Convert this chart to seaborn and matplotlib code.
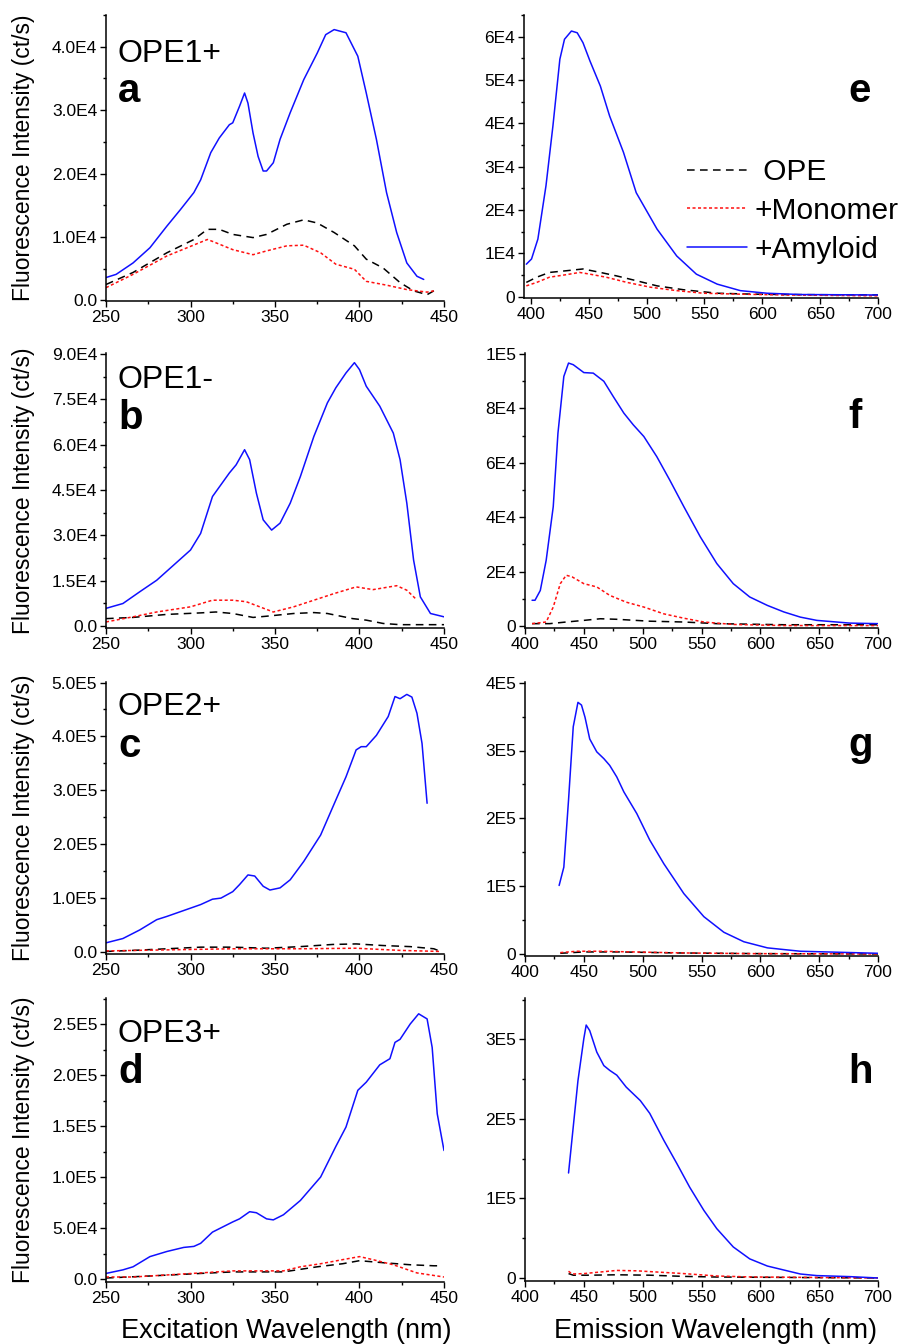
import numpy as np
import pandas as pd
import matplotlib
matplotlib.use("Agg")
import matplotlib.pyplot as plt
from matplotlib.ticker import MultipleLocator, FuncFormatter
import seaborn as sns

# ---------------- data ----------------
SERIES = [" OPE", "+Monomer", "+Amyloid"]

# panel a : OPE1+ excitation
A_X_AMY = [250, 256, 266, 276, 286, 294, 302, 306, 312, 317, 323, 325, 329, 332, 334, 337, 340, 343, 345, 349,
           353, 359, 367, 375, 380, 385, 392, 399, 404, 410, 416, 422, 428, 434, 438]
A_Y_AMY = [3600, 4100, 5900, 8300, 11700, 14300, 17000, 19000, 23300, 25600, 27700, 28000, 30600, 32700, 31100,
           26400, 22700, 20400, 20400, 21700, 25400, 29600, 34800, 39000, 41900, 42700, 42200, 38500, 32700,
           25400, 17000, 10700, 5900, 3800, 3300]
A_X_OPE = [250, 266, 286, 302, 310, 317, 325, 337, 345, 357, 367, 375, 385, 397, 404, 414, 424, 432, 440, 444]
A_Y_OPE = [2500, 4400, 7500, 9600, 11200, 11200, 10400, 9900, 10400, 12000, 12700, 12200, 10700, 8600, 6500,
           5100, 2800, 1500, 900, 1500]
A_X_MONO = [250, 266, 286, 298, 310, 313, 325, 337, 345, 357, 367, 377, 386, 397, 404, 416, 428, 440, 444]
A_Y_MONO = [2000, 4100, 7000, 8300, 9600, 9300, 8000, 7200, 7800, 8600, 8700, 7500, 5700, 4900, 3000, 2400,
            1700, 1300, 1500]

# panel b : OPE1- excitation
B_X_AMY = [250, 260, 270, 280, 290, 300, 306, 313, 323, 327, 332, 335, 339, 343, 348, 353, 359, 365, 373, 381,
           386, 392, 397, 400, 404, 412, 420, 424, 428, 432, 436, 442, 450]
B_Y_AMY = [5800, 7400, 11300, 15100, 20100, 25100, 30600, 42800, 50600, 53300, 58300, 55000, 43900, 35100,
           31700, 34000, 40600, 49400, 62700, 73800, 78800, 83700, 87100, 84800, 79300, 72700, 63800, 55000,
           40600, 21800, 9600, 4100, 3000]
B_X_MONO = [250, 266, 280, 300, 313, 325, 333, 349, 361, 373, 385, 398, 408, 422, 428, 433]
B_Y_MONO = [1300, 3000, 4600, 6300, 8500, 8500, 8000, 4600, 6300, 8500, 10700, 12900, 12000, 13300, 11800, 9100]
B_X_OPE = [250, 266, 286, 306, 315, 325, 337, 345, 361, 373, 381, 396, 404, 414, 424, 450]
B_Y_OPE = [2400, 2800, 3800, 4300, 4600, 4100, 2800, 3200, 4100, 4400, 4100, 2400, 1900, 800, 400, 400]

# panel c : OPE2+ excitation
C_X_AMY = [250, 260, 270, 280, 286, 296, 306, 313, 318, 325, 329, 334, 338, 343, 347, 353, 359, 367, 377, 386,
           392, 398, 401, 404, 410, 417, 421, 424, 428, 431, 434, 437, 440]
C_Y_AMY = [17000, 25000, 41000, 60000, 66000, 77000, 88000, 98000, 100000, 112000, 125000, 143000, 141000,
           122000, 115000, 119000, 134000, 168000, 217000, 282000, 325000, 375000, 381000, 381000, 402000,
           437000, 474000, 470000, 478000, 473000, 443000, 387000, 276000]
C_X_OPE = [250, 266, 286, 306, 325, 345, 365, 384, 398, 414, 430, 444, 448]
C_Y_OPE = [1000, 3000, 6000, 9000, 9000, 7000, 10000, 14000, 15000, 12000, 10000, 6000, 1000]
C_X_MONO = [250, 286, 325, 365, 398, 424, 448]
C_Y_MONO = [2000, 4000, 6000, 6000, 7000, 3000, 1000]

# panel d : OPE3+ excitation
D_X_AMY = [250, 260, 266, 276, 286, 296, 302, 306, 313, 325, 329, 335, 339, 345, 349, 355, 365, 377, 386, 392,
           399, 404, 412, 418, 421, 424, 430, 435, 440, 443, 446, 450]
D_Y_AMY = [5500, 9000, 12000, 22000, 27000, 31000, 32000, 35000, 46000, 56000, 59000, 66000, 65000, 59000,
           58000, 63000, 77000, 100000, 130000, 149000, 185000, 193000, 210000, 216000, 232000, 235000, 250000,
           260000, 255000, 227000, 162000, 126000]
D_X_MONO = [250, 266, 286, 306, 325, 345, 355, 365, 377, 390, 400, 408, 420, 434, 450]
D_Y_MONO = [2000, 2000, 4000, 6000, 8000, 8000, 8000, 12000, 15000, 19000, 22000, 19000, 14000, 6000, 2000]
D_X_OPE = [250, 276, 306, 325, 345, 355, 375, 390, 400, 414, 430, 444, 448]
D_Y_OPE = [1000, 3000, 5500, 7000, 7000, 7000, 12000, 15000, 18000, 16000, 14000, 13000, 13000]

# panel e : OPE1+ emission
E_X_AMY = [396, 400.5, 406, 413, 419, 425, 429, 435, 440, 445, 451, 460, 468, 480, 491, 509, 526, 543, 561,
           581, 604, 633, 700]
E_Y_AMY = [7500, 8700, 13300, 25600, 39400, 54800, 59400, 61300, 60900, 58600, 54400, 48600, 41700, 33300,
           24000, 15600, 9400, 5200, 2900, 1400, 800, 500, 400]
E_X_OPE = [396, 405, 416, 431, 445, 460, 474, 491, 509, 532, 561, 590, 618, 700]
E_Y_OPE = [3300, 4500, 5600, 6000, 6400, 5600, 4800, 3700, 2500, 1600, 800, 600, 500, 400]
E_X_MONO = [396, 405, 416, 431, 442, 451, 465, 483, 503, 526, 549, 578, 618, 700]
E_Y_MONO = [2500, 3300, 4500, 5100, 5600, 5200, 4500, 3300, 2200, 1400, 800, 600, 400, 200]

# panel f : OPE1- emission
F_X_AMY = [406, 408.5, 413, 418, 424, 428, 433, 437, 441, 450, 458, 467, 475, 484, 492, 501, 512, 523, 535,
           549, 563, 577, 591, 606, 620, 634, 648, 676, 700]
F_Y_AMY = [9500, 9500, 13100, 24200, 43900, 70900, 91800, 96700, 96100, 93200, 93000, 90000, 84400, 78300,
           74000, 69700, 62300, 53700, 43900, 32800, 23000, 15600, 10700, 7600, 5200, 3300, 2100, 1100, 900]
F_X_MONO = [406, 418, 424, 430, 435, 440, 450, 461, 472, 486, 501, 518, 535, 552, 577, 620, 700]
F_Y_MONO = [900, 1500, 7000, 15600, 18700, 18100, 15600, 14400, 11300, 8800, 7000, 4500, 2900, 1500, 600,
            200, 200]
F_X_OPE = [406, 421, 435, 450, 464, 478, 506, 535, 563, 620, 700]
F_Y_OPE = [900, 900, 1500, 2100, 2700, 2500, 1800, 1500, 900, 500, 500]

# panel g : OPE2+ emission
G_X_AMY = [429, 433, 437, 441, 445, 448, 451, 455, 461, 467, 472, 478, 484, 495, 506, 518, 535, 552, 569, 586,
           606, 634, 700]
G_Y_AMY = [101000, 128000, 227000, 335000, 371000, 367000, 349000, 317000, 298000, 288000, 278000, 261000,
           239000, 207000, 168000, 133000, 89000, 55000, 32000, 18000, 9000, 4000, 1000]
G_X_MONO = [430, 444, 464, 492, 535, 591, 700]
G_Y_MONO = [2000, 4000, 4000, 3000, 1500, 500, 0]
G_X_OPE = [430, 450, 480, 530, 600, 700]
G_Y_OPE = [1000, 3000, 3000, 1500, 500, 0]

# panel h : OPE3+ emission
H_X_AMY = [437, 441, 445, 450, 452, 455, 461, 467, 472, 478, 486, 498, 506, 518, 529, 540, 552, 563, 577, 591,
           606, 620, 634, 648, 676, 700]
H_Y_AMY = [132000, 190000, 248000, 301000, 318000, 311000, 284000, 267000, 261000, 255000, 240000, 223000,
           207000, 173000, 144000, 114000, 85000, 62000, 39000, 24000, 15000, 10000, 5000, 3000, 1700, 0]
H_X_MONO = [437, 440, 450, 464, 478, 495, 512, 535, 563, 591, 700]
H_Y_MONO = [8500, 5000, 5500, 7500, 9500, 9000, 7500, 5500, 2500, 1300, 0]
H_X_OPE = [437, 441, 455, 478, 506, 535, 563, 700]
H_Y_OPE = [5500, 3500, 3500, 4000, 3500, 2000, 1200, 0]

COMPOUNDS = ["OPE1+", "OPE1-", "OPE2+", "OPE3+"]
LETTERS_LEFT = ["a", "b", "c", "d"]
LETTERS_RIGHT = ["e", "f", "g", "h"]

# ---------------- styling ----------------
sns.set_theme(style="ticks")
plt.rcParams["font.family"] = ["Liberation Sans", "DejaVu Sans"]
plt.rcParams["axes.linewidth"] = 1.1
plt.rcParams["axes.edgecolor"] = "black"
plt.rcParams["text.color"] = "black"
plt.rcParams["axes.labelcolor"] = "black"
plt.rcParams["xtick.color"] = "black"
plt.rcParams["ytick.color"] = "black"
plt.rcParams["xtick.labelcolor"] = "black"
plt.rcParams["ytick.labelcolor"] = "black"

COLORS = {" OPE": "black", "+Monomer": "#ff1010", "+Amyloid": "#1010ff"}
DASHES = {" OPE": (5, 3.5), "+Monomer": (2, 1.6), "+Amyloid": ""}

W, H = 903, 1344
fig = plt.figure(figsize=(W / 100, H / 100), dpi=100)


def frame(xo, yo, xm, ym, xa, ya):
    parts = []
    for name, xs, ys in [(" OPE", xo, yo), ("+Monomer", xm, ym), ("+Amyloid", xa, ya)]:
        parts.append(pd.DataFrame({"wl": xs, "I": ys, "series": name}))
    return pd.concat(parts, ignore_index=True)


def sci_formatter(dec):
    def f(v, pos):
        if abs(v) < 1e-6:
            return "0.0" if dec else "0"
        e = int(np.floor(np.log10(abs(v)) + 1e-9))
        m = v / 10 ** e
        return f"{m:.{dec}f}E{e}"
    return FuncFormatter(f)


def px_rect(l, t, r, b):
    return [l / W, 1 - b / H, (r - l) / W, (b - t) / H]


panels = [
    dict(data=frame(A_X_OPE, A_Y_OPE, A_X_MONO, A_Y_MONO, A_X_AMY, A_Y_AMY), box=(106, 15, 444, 301),
         xlim=(250, 450), ylim=(-100, 45000), ymaj=10000, dec=1),
    dict(data=frame(B_X_OPE, B_Y_OPE, B_X_MONO, B_Y_MONO, B_X_AMY, B_Y_AMY), box=(106, 353, 444, 628),
         xlim=(250, 450), ylim=(-700, 90300), ymaj=15000, dec=1),
    dict(data=frame(C_X_OPE, C_Y_OPE, C_X_MONO, C_Y_MONO, C_X_AMY, C_Y_AMY), box=(106, 682, 444, 954),
         xlim=(250, 450), ylim=(-3700, 501000), ymaj=100000, dec=1),
    dict(data=frame(D_X_OPE, D_Y_OPE, D_X_MONO, D_Y_MONO, D_X_AMY, D_Y_AMY), box=(106, 998, 444, 1282),
         xlim=(250, 450), ylim=(-2900, 275500), ymaj=50000, dec=1),
    dict(data=frame(E_X_OPE, E_Y_OPE, E_X_MONO, E_Y_MONO, E_X_AMY, E_Y_AMY), box=(524, 15, 878, 298),
         xlim=(394, 700), ylim=(-300, 65000), ymaj=10000, dec=0),
    dict(data=frame(F_X_OPE, F_Y_OPE, F_X_MONO, F_Y_MONO, F_X_AMY, F_Y_AMY), box=(525, 353, 878, 628),
         xlim=(400, 700), ylim=(-700, 100400), ymaj=20000, dec=0),
    dict(data=frame(G_X_OPE, G_Y_OPE, G_X_MONO, G_Y_MONO, G_X_AMY, G_Y_AMY), box=(525, 682, 878, 956),
         xlim=(400, 700), ylim=(-3000, 401000), ymaj=100000, dec=0),
    dict(data=frame(H_X_OPE, H_Y_OPE, H_X_MONO, H_Y_MONO, H_X_AMY, H_Y_AMY), box=(525, 998, 878, 1281),
         xlim=(400, 700), ylim=(-3800, 352000), ymaj=100000, dec=0),
]

axes = []
for i, p in enumerate(panels):
    ax = fig.add_axes(px_rect(*p["box"]))
    sns.lineplot(data=p["data"], x="wl", y="I", hue="series", style="series", hue_order=SERIES,
                 style_order=SERIES, palette=COLORS, dashes=DASHES, estimator=None, sort=False,
                 linewidth=1.1, legend=False, ax=ax)
    ax.set_xlim(*p["xlim"])
    ax.set_ylim(*p["ylim"])
    sns.despine(ax=ax)
    ax.xaxis.set_major_locator(MultipleLocator(50))
    ax.xaxis.set_minor_locator(MultipleLocator(25))
    ax.yaxis.set_major_locator(MultipleLocator(p["ymaj"]))
    ax.yaxis.set_minor_locator(MultipleLocator(p["ymaj"] / 2))
    ax.yaxis.set_major_formatter(sci_formatter(p["dec"]))
    ax.tick_params(which="major", direction="out", length=4.3, width=1.0, labelsize=12.5, pad=2,
                   colors="black")
    ax.tick_params(which="minor", direction="out", length=2.2, width=1.0, colors="black")
    ax.set_xlabel("")
    ax.set_ylabel("")
    ax.set_facecolor("white")
    axes.append(ax)

# y labels on left column
for i in range(4):
    ax = axes[i]
    l, t, r, b = panels[i]["box"]
    ax.set_ylabel("Fluorescence Intensity (ct/s)", fontsize=16.5, color="black")
    ax.yaxis.set_label_coords((35 - l) / (r - l), 0.5)

# x labels on bottom row
axes[3].set_xlabel("Excitation Wavelength (nm)", fontsize=19.5, color="black")
axes[3].xaxis.set_label_coords(0.533, -0.125)
axes[7].set_xlabel("Emission Wavelength (nm)", fontsize=19.5, color="black")
axes[7].xaxis.set_label_coords(0.541, -0.129)

# panel annotations (figure pixel positions)
name_base = [62, 388, 715, 1042]
letter_base_left = [102, 429, 757, 1083]
letter_base_right = [102, 428, 756, 1083]
for i in range(4):
    fig.text(118 / W, 1 - name_base[i] / H, COMPOUNDS[i], fontsize=23, va="baseline", ha="left",
             color="black")
    fig.text(118 / W, 1 - letter_base_left[i] / H, LETTERS_LEFT[i], fontsize=29, fontweight="bold",
             va="baseline", ha="left", color="black")
    fig.text(848 / W, 1 - letter_base_right[i] / H, LETTERS_RIGHT[i], fontsize=29, fontweight="bold",
             va="baseline", ha="left", color="black")

# legend in panel e
lines = axes[4].get_lines()[:3]
leg = fig.legend(lines, SERIES, loc="upper left", bbox_to_anchor=(687 / W, 1 - 158 / H),
                 bbox_transform=fig.transFigure, frameon=False, fontsize=21.5, handlelength=2.0,
                 handletextpad=0.27, labelspacing=0.36, borderpad=0, borderaxespad=0)
for t in leg.get_texts():
    t.set_color("black")

fig.savefig("out.png", dpi=100, facecolor="white")
